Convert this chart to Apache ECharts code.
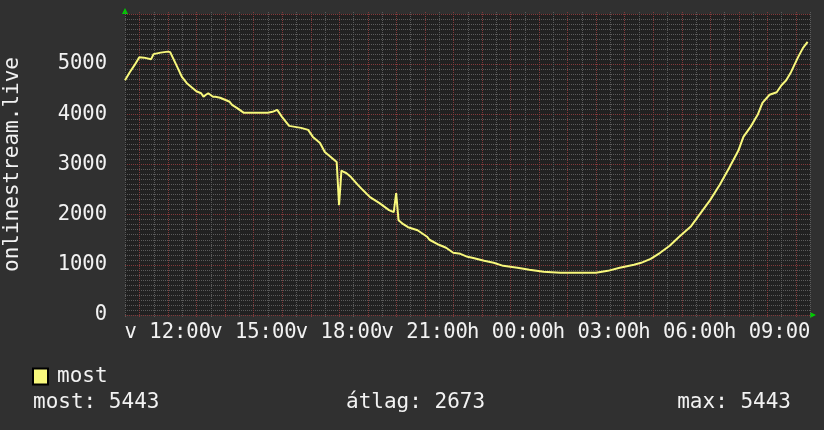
<!DOCTYPE html>
<html>
<head>
<meta charset="utf-8">
<script src="https://cdn.jsdelivr.net/npm/echarts@6/dist/echarts.min.js"></script>
<style>
  html, body { margin: 0; padding: 0; background: #303030; }
  #chart { width: 824px; height: 430px; }
</style>
</head>
<body>
<div id="chart"></div>
<script>
// minutes since midnight of the first day (10:30 -> 10:30 next day)
const minutes = [
  630, 640, 650, 660, 670, 685, 690, 705, 720, 725, 730, 740, 750, 760, 770, 780,
  790, 795, 800, 805, 815, 820, 830, 840, 850, 855, 865, 880, 905, 930, 940, 950,
  960, 975, 1000, 1015, 1025, 1040, 1050, 1065, 1075, 1080, 1085, 1090, 1095, 1105,
  1120, 1130, 1145, 1165, 1185, 1195, 1200, 1205, 1215, 1225, 1245, 1265, 1270, 1290,
  1305, 1320, 1335, 1350, 1360, 1385, 1405, 1425, 1455, 1480, 1510, 1545, 1580, 1620,
  1645, 1670, 1700, 1715, 1735, 1755, 1775, 1795, 1820, 1840, 1860, 1880, 1900, 1920,
  1930, 1945, 1960, 1970, 1985, 2000, 2010, 2020, 2030, 2045, 2055, 2065
];
const viewers = [
  4680, 4840, 4980, 5140, 5130, 5100, 5200, 5230, 5250, 5240, 5140, 4940, 4740, 4620, 4540, 4460,
  4420, 4350, 4390, 4420, 4350, 4350, 4330, 4290, 4250, 4190, 4130, 4030, 4030, 4030, 4050, 4090,
  3950, 3770, 3730, 3690, 3550, 3430, 3250, 3130, 3050, 2190, 2880, 2850, 2830, 2750,
  2590, 2490, 2350, 2230, 2090, 2050, 2430, 1890, 1810, 1750, 1690, 1560, 1500, 1400,
  1340, 1240, 1220, 1160, 1140, 1080, 1040, 980, 940, 900, 860, 840, 840, 840,
  880, 940, 1000, 1040, 1120, 1240, 1380, 1560, 1770, 2030, 2290, 2590, 2930, 3290,
  3550, 3750, 3990, 4230, 4390, 4440, 4580, 4680, 4840, 5140, 5320, 5443
];

// vertical grid: full hours red, half hours grey
const hourMinutes = [660, 720, 780, 840, 900, 960, 1020, 1080, 1140, 1200, 1260, 1320,
  1380, 1440, 1500, 1560, 1620, 1680, 1740, 1800, 1860, 1920, 1980, 2040];
const halfHourMinutes = [630, 690, 750, 810, 870, 930, 990, 1050, 1110, 1170, 1230, 1290,
  1350, 1410, 1470, 1530, 1590, 1650, 1710, 1770, 1830, 1890, 1950, 2010, 2070];
const labelMinutes = [720, 900, 1080, 1260, 1440, 1620, 1800, 1980];
const labelTexts = ['v 12:00', 'v 15:00', 'v 18:00', 'v 21:00', 'h 00:00', 'h 03:00', 'h 06:00', 'h 09:00'];
const yLabels = ['0', '1000', '2000', '3000', '4000', '5000'];

const statNames = ['most', 'átlag', 'max'];
const statValues = [5443, 2673, 5443];

const font = 'DejaVu Sans Mono';
const textColor = '#f2f2f2';
const lineColor = '#f8f87c';
const minorGrid = '#5a5a5a';
const majorGrid = '#82393a';

// plot box
const L = 125, T = 14, W = 685, H = 301;

function gridLines(name, list, color) {
  return {
    name: name,
    type: 'custom',
    silent: true,
    clip: false,
    z: 1,
    data: list.map(m => [m]),
    renderItem: (params, api) => {
      const cs = params.coordSys;
      const x = Math.round(api.coord([api.value(0), 0])[0]) + 0.5;
      return {
        type: 'line',
        shape: { x1: x, y1: cs.y - 2, x2: x, y2: cs.y + cs.height + 2 },
        style: { stroke: color, lineWidth: 1, lineDash: [1, 1] }
      };
    }
  };
}

const chart = echarts.init(document.getElementById('chart'));
chart.setOption({
  animation: false,
  backgroundColor: '#303030',
  textStyle: { fontFamily: font },
  grid: {
    left: L, top: T, width: W, height: H,
    containLabel: false, outerBoundsMode: 'none',
    show: true, backgroundColor: '#212121', borderWidth: 0
  },
  legend: {
    left: 32, top: 366, padding: 0,
    itemWidth: 15, itemHeight: 16,
    icon: 'rect',
    textStyle: { color: textColor, fontSize: 21, fontFamily: font, padding: [0, 0, 0, 4] },
    data: ['most']
  },
  xAxis: {
    type: 'value',
    min: 630, max: 2070, interval: 30,
    axisLine: { show: false },
    axisTick: { show: false },
    axisLabel: {
      color: textColor, fontSize: 20.5, fontFamily: font, margin: 7,
      hideOverlap: false,
      formatter: v => {
        const i = labelMinutes.indexOf(v);
        return i >= 0 ? labelTexts[i] : '';
      }
    },
    splitLine: { show: false }
  },
  yAxis: {
    type: 'value',
    min: 0, max: 6000, interval: 1000,
    name: 'onlinestream.live',
    nameLocation: 'middle',
    nameRotate: 90,
    nameGap: 102,
    nameTextStyle: { color: textColor, fontSize: 21, fontFamily: font },
    axisLine: { show: false },
    axisTick: { show: false },
    axisLabel: {
      color: textColor, fontSize: 20.5, fontFamily: font, margin: 18,
      formatter: v => yLabels[v / 1000] || ''
    },
    splitLine: { show: true, lineStyle: { color: majorGrid, type: 'dotted', width: 1 } },
    minorTick: { show: false, splitNumber: 10 },
    minorSplitLine: { show: true, lineStyle: { color: minorGrid, type: 'dotted', width: 1 } }
  },
  series: [
    gridLines('halfHours', halfHourMinutes, minorGrid),
    gridLines('hours', hourMinutes, majorGrid),
    {
      name: 'most',
      type: 'line',
      z: 3,
      showSymbol: false,
      symbol: 'none',
      itemStyle: { color: lineColor, borderColor: '#000', borderWidth: 1 },
      lineStyle: { color: lineColor, width: 2 },
      data: minutes.map((m, i) => [m, viewers[i]])
    }
  ],
  graphic: [
    { type: 'polygon', shape: { points: [[L, T - 6], [L - 3, T], [L + 3, T]] }, style: { fill: '#00cc00' } },
    { type: 'polygon', shape: { points: [[L + W + 6, T + H], [L + W, T + H - 3], [L + W, T + H + 3]] }, style: { fill: '#00cc00' } },
    {
      type: 'text', left: 33, top: 392,
      style: { text: statNames[0] + ': ' + statValues[0], fill: textColor, font: '21px "DejaVu Sans Mono"' }
    },
    {
      type: 'text', left: 346, top: 392,
      style: { text: statNames[1] + ': ' + statValues[1], fill: textColor, font: '21px "DejaVu Sans Mono"' }
    },
    {
      type: 'text', right: 33, top: 392,
      style: { text: statNames[2] + ': ' + statValues[2], fill: textColor, font: '21px "DejaVu Sans Mono"' }
    }
  ]
});
</script>
</body>
</html>
